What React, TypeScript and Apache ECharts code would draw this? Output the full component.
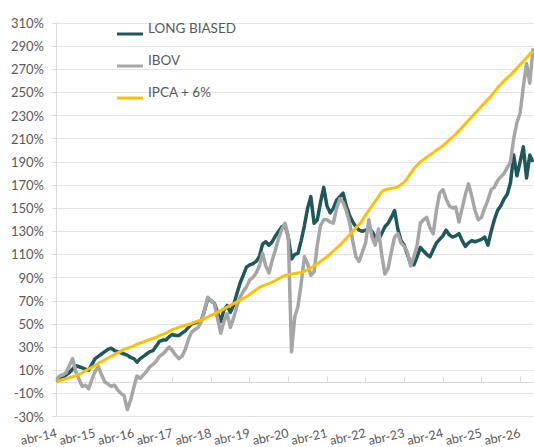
import React, { useEffect, useRef } from "react";
import * as echarts from "echarts";

const MONTHS = ["jan", "fev", "mar", "abr", "mai", "jun", "jul", "ago", "set", "out", "nov", "dez"];
const START_YEAR = 2014;
const START_MONTH = 3; // abr
const POINTS = 149; // abr-14 .. ago-26

const categories: string[] = [];
for (let i = 0; i < POINTS; i++) {
  const mi = START_MONTH + i;
  const y = START_YEAR + Math.floor(mi / 12);
  categories.push(MONTHS[mi % 12] + "-" + String(y).slice(2));
}

const Y_TICK_LABELS = [-30, -10, 10, 30, 50, 70, 90, 110, 130, 150, 170, 190, 210, 230, 250, 270, 290, 310];

// LONG BIASED (%)
const longBiased = [
  0, 2, 4, 6, 8, 11, 14, 13, 12, 11, 10, 15,
  20, 22, 24, 26, 28, 29, 27, 26, 25, 24, 23, 21,
  20, 17, 20, 22, 24, 26, 27, 31, 35, 36, 36, 39,
  41, 40, 40, 42, 44, 47, 50, 51, 52, 53, 62, 72,
  70, 68, 60, 52, 62, 66, 60, 66, 76, 85, 92, 99,
  101, 102, 104, 108, 119, 121, 118, 121, 126, 130, 134, 135,
  125, 106, 110, 111, 122, 135, 150, 160, 137, 140, 155, 168,
  152, 146, 150, 157, 160, 163, 152, 144, 138, 134, 131, 130,
  131, 133, 130, 125, 123, 128, 134, 137, 142, 148, 132, 122,
  118, 110, 102, 101, 108, 116, 113, 110, 108, 114, 120, 123,
  126, 131, 127, 125, 126, 128, 122, 117, 120, 122, 121, 122,
  123, 125, 118, 130, 140, 148, 152, 158, 162, 172, 196, 178,
  190, 203, 176, 196, 190,
];

// IBOV (%)
const ibov = [
  2, 5, 6, 8, 14, 20, 9, 2, -4, -3, -6, 2,
  9, 13, 6, 0, -2, -4, -3, -7, -10, -12, -24, -16,
  -5, 5, 3, 6, 9, 13, 15, 18, 22, 24, 27, 30,
  27, 23, 20, 22, 28, 37, 43, 45, 47, 52, 62, 73,
  70, 68, 55, 42, 52, 59, 47, 55, 65, 73, 78, 82,
  88, 90, 94, 100, 111, 100, 94, 105, 114, 124, 132, 137,
  125, 26, 56, 65, 85, 108, 102, 92, 95, 118, 135, 140,
  140, 138, 137, 150, 158, 155, 148, 138, 122, 108, 104, 112,
  120, 140, 125, 118, 132, 110, 93, 98, 112, 125, 128, 120,
  117, 112, 100, 108, 118, 137, 140, 142, 133, 128, 148, 163,
  166, 158, 152, 150, 151, 138, 150, 162, 171, 160, 148, 140,
  142, 150, 157, 166, 168, 174, 177, 180, 185, 190, 210, 224,
  232, 255, 275, 258, 288,
];

// IPCA + 6% (%)
const ipca6 = [
  0, 1, 2, 2.7, 3.5, 4.3, 5.3, 6.5, 7.8, 9.5, 11, 12.5,
  14, 16, 17.5, 19, 20.5, 22, 23.5, 25, 26.5, 28, 29, 30,
  31, 32.5, 33.5, 34.5, 35.5, 36.5, 37.5, 38.5, 40, 41, 42, 43.5,
  45, 46, 47, 48, 48.8, 49.5, 50.5, 51.5, 52.5, 53.5, 54.5, 56,
  57.5, 58.5, 60, 61.5, 63, 64.5, 66, 67.5, 69, 70.5, 72, 73.5,
  75.5, 77.5, 79.5, 81.5, 83, 84, 85, 86, 87.5, 89, 90.5, 92,
  92.5, 93, 93.5, 94, 94.5, 95.5, 97, 98.5, 100, 102, 104, 106,
  108, 110.5, 113, 115.5, 118, 121, 124, 127, 130, 133, 136, 139.5,
  144, 148, 152, 156, 160, 164, 166, 166.5, 167, 167.5, 168.5, 170.5,
  172.5, 176, 180, 184, 187, 190, 192, 194, 196, 198, 200, 202,
  204, 206.5, 209, 211.5, 214, 217, 220, 223, 226, 229, 232, 235,
  238, 241, 244, 247, 250.5, 254, 257, 260, 262.5, 265, 268, 271,
  274, 277, 280, 283, 286,
];

const SERIES_NAMES = ["LONG BIASED", "IBOV", "IPCA + 6%"];
const COLORS = ["#1f5858", "#a6a6a6", "#ffc000"];

const FONT = "Lato, 'Open Sans', sans-serif";
const Y_OFFSET = -Y_TICK_LABELS[0];

export default function App() {
  const ref = useRef<HTMLDivElement>(null);

  useEffect(() => {
    if (!ref.current) return;
    const chart = echarts.init(ref.current, null, { renderer: "svg" });
    const data = [longBiased, ibov, ipca6];
    chart.setOption({
      animation: false,
      backgroundColor: "#ffffff",
      grid: {
        left: 56.5,
        right: 1,
        top: 23,
        bottom: 30.5,
        containLabel: false,
        outerBoundsMode: "none",
      },
      legend: {
        orient: "vertical",
        left: 117,
        top: 21,
        padding: 0,
        itemGap: 6,
        itemWidth: 26,
        itemHeight: 3,
        icon: "rect",
        data: SERIES_NAMES,
        formatter: (name: string) => `{t|${name}}`,
        textStyle: {
          fontFamily: FONT,
          fontSize: 13.5,
          color: "#595959",
          rich: {
            t: {
              fontFamily: FONT,
              fontSize: 13.5,
              color: "#595959",
              lineHeight: 14,
              padding: [0, 0, 12, 0],
            },
          },
        },
      },
      xAxis: [
        {
          type: "category",
          data: categories,
          boundaryGap: false,
          position: "bottom",
          axisLine: { show: false, onZero: false },
          axisTick: { show: false },
          splitLine: { show: false },
          axisLabel: {
            interval: 11,
            rotate: 13,
            margin: 16,
            showMinLabel: true,
            fontFamily: FONT,
            fontSize: 12.5,
            color: "#595959",
          },
        },
        {
          type: "category",
          data: categories,
          boundaryGap: false,
          axisLine: {
            show: true,
            onZero: true,
            onZeroAxisIndex: 1,
            lineStyle: { color: "#d9d9d9", width: 1 },
          },
          axisTick: { show: true, interval: 11, length: 5, lineStyle: { color: "#d9d9d9" } },
          axisLabel: { show: false },
          splitLine: { show: false },
        },
      ],
      yAxis: [
        {
          type: "value",
          min: 0,
          max: Y_TICK_LABELS[Y_TICK_LABELS.length - 1] + Y_OFFSET,
          interval: 20,
          axisLine: { show: true, lineStyle: { color: "#d9d9d9" } },
          axisTick: { show: true, length: 4, lineStyle: { color: "#d9d9d9" } },
          splitLine: { show: true, lineStyle: { color: "#e3e3e3", width: 1 } },
          axisLabel: {
            margin: 12.5,
            fontFamily: FONT,
            fontSize: 13,
            color: "#595959",
            padding: [0, 0, 9, 0],
            formatter: (v: number) => `${Math.round(v - Y_OFFSET)}%`,
          },
        },
        {
          type: "value",
          min: Y_TICK_LABELS[0],
          max: Y_TICK_LABELS[Y_TICK_LABELS.length - 1],
          show: false,
          splitLine: { show: false },
        },
      ],
      series: SERIES_NAMES.map((name, i) => ({
        name,
        type: "line",
        xAxisIndex: 0,
        yAxisIndex: 1,
        data: data[i],
        showSymbol: false,
        symbol: "none",
        color: COLORS[i],
        lineStyle: { color: COLORS[i], width: i === 2 ? 3 : 3.5, join: "round" },
        z: 2 + i,
      })),
    });
    return () => chart.dispose();
  }, []);

  return (
    <div
      ref={ref}
      style={{ position: "fixed", left: 0, top: 0, width: 534, height: 447, background: "#fff" }}
    />
  );
}
